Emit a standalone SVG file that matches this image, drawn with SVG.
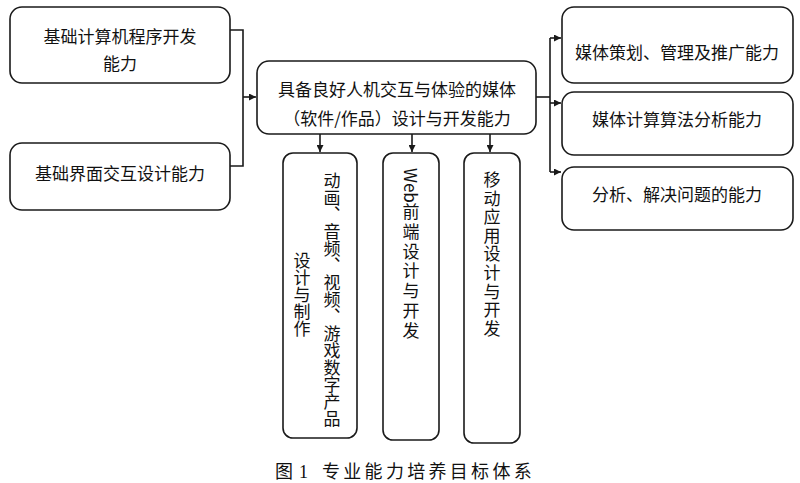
<svg xmlns="http://www.w3.org/2000/svg" width="800" height="483" viewBox="0 0 800 483">
<style>
.box{fill:#fff;stroke:#1a1a1a;stroke-width:1.6}
.t{font-family:"Noto Sans CJK SC","Noto Sans",sans-serif;font-size:17px;fill:#111;text-anchor:middle;dominant-baseline:central}
.v{font-family:"Noto Sans CJK SC","Noto Sans",sans-serif;font-size:17px;fill:#111;writing-mode:vertical-rl;text-anchor:start}
.ln{fill:none;stroke:#1a1a1a;stroke-width:1.6}
.cap{font-family:"Liberation Serif","Noto Sans CJK SC",serif;font-size:18px;fill:#111}
</style>
<defs>
<marker id="ah" viewBox="0 0 10 10" refX="10" refY="5" markerWidth="7" markerHeight="7" markerUnits="userSpaceOnUse" orient="auto"><path d="M0,0 L10,5 L0,10 z" fill="#1a1a1a"/></marker>
</defs>
<rect width="800" height="483" fill="#fff"/>
<g id="connectors">
<path class="ln" d="M230,30 H243 V166 H230"/>
<path class="ln" d="M243,97 H256" marker-end="url(#ah)"/>
<path class="ln" d="M536,97 H550"/>
<path class="ln" d="M550,38 V172"/>
<path class="ln" d="M550,38 H561" marker-end="url(#ah)"/>
<path class="ln" d="M550,103 H561" marker-end="url(#ah)"/>
<path class="ln" d="M550,172 H561" marker-end="url(#ah)"/>
<path class="ln" d="M320,134 V152" marker-end="url(#ah)"/>
<path class="ln" d="M412,134 V152" marker-end="url(#ah)"/>
<path class="ln" d="M490,134 V152" marker-end="url(#ah)"/>
</g>
<g id="n1"><rect class="box" x="10" y="7" width="220" height="76" rx="12"/>
<text class="t" x="120" y="35">基础计算机程序开发</text><text class="t" x="120" y="62">能力</text></g>
<g id="n2"><rect class="box" x="10" y="143" width="220" height="67" rx="12"/>
<text class="t" x="120" y="172">基础界面交互设计能力</text></g>
<g id="n3"><rect class="box" x="257" y="61" width="279" height="73" rx="12"/>
<text class="t" x="397" y="88">具备良好人机交互与体验的媒体</text><text class="t" x="397" y="117">（软件/作品）设计与开发能力</text></g>
<g id="n4"><rect class="box" x="562" y="7" width="231" height="76" rx="12"/>
<text class="t" x="677" y="51">媒体策划、管理及推广能力</text></g>
<g id="n5"><rect class="box" x="562" y="92" width="231" height="63" rx="12"/>
<text class="t" x="677" y="118">媒体计算算法分析能力</text></g>
<g id="n6"><rect class="box" x="562" y="167" width="231" height="63" rx="12"/>
<text class="t" x="677" y="193">分析、解决问题的能力</text></g>
<g id="n7"><rect class="box" x="283" y="153" width="74" height="285" rx="10"/>
<text class="v" x="332" y="172">动画、音频、视频、游戏数字产品</text>
<text class="v" x="302" y="252">设计与制作</text></g>
<g id="n8"><rect class="box" x="383" y="153" width="56" height="287" rx="10"/>
<text class="v" x="411" y="168">Web<tspan letter-spacing="2.8">前端设计与开发</tspan></text></g>
<g id="n9"><rect class="box" x="464" y="153" width="56" height="290" rx="10"/>
<text class="v" x="492" y="171" letter-spacing="1.6">移动应用设计与开发</text></g>
<text class="cap" y="478"><tspan x="275">图</tspan><tspan x="299">1</tspan><tspan x="322" letter-spacing="3.3">专业能力培养目标体系</tspan></text>
</svg>
